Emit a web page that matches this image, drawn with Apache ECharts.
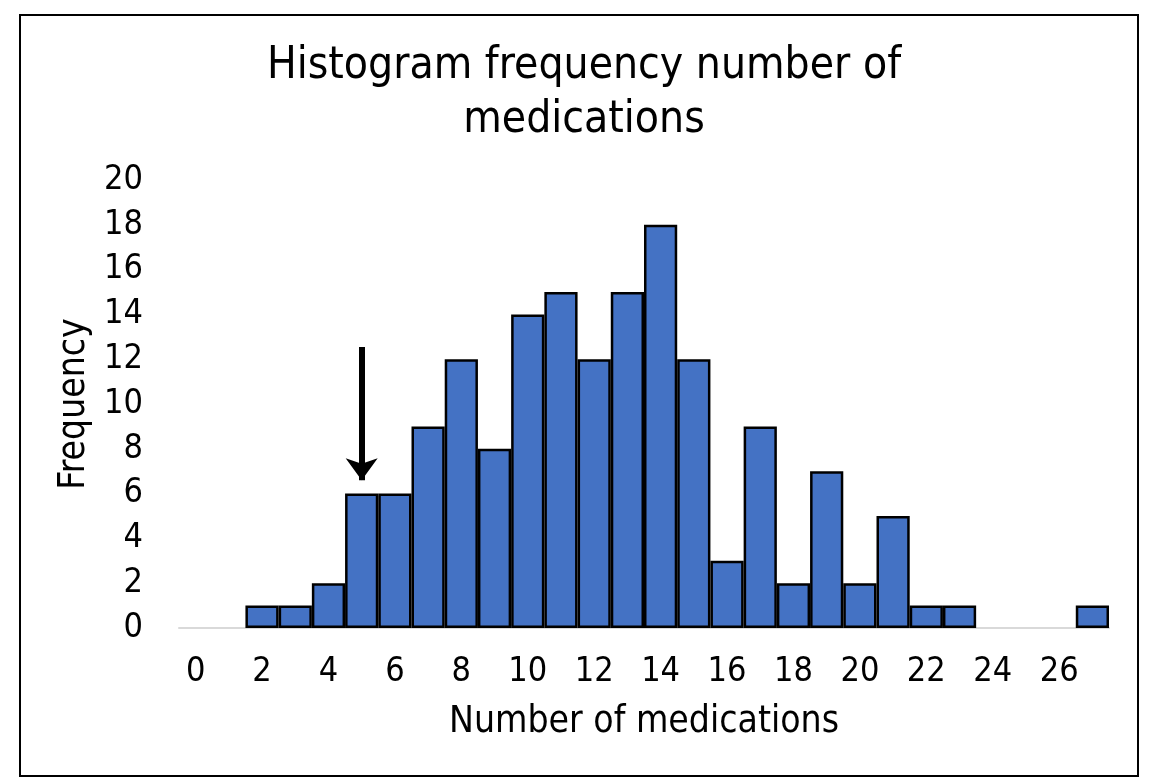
<!DOCTYPE html>
<html>
<head>
<meta charset="utf-8">
<script src="https://cdn.jsdelivr.net/npm/echarts@6/dist/echarts.min.js"></script>
<style>
  html, body { margin: 0; padding: 0; background: #fff; }
  #box { width: 1153px; height: 778px; }
</style>
</head>
<body>
<div id="box"></div>
<script>
// number of medications (bins) and how many patients fall in each
var categories = ['0', '1', '2', '3', '4', '5', '6', '7', '8', '9', '10', '11', '12', '13',
    '14', '15', '16', '17', '18', '19', '20', '21', '22', '23', '24', '25', '26', '27'];
var frequency = [0, 0, 1, 1, 2, 6, 6, 9, 12, 8, 14, 15, 12, 15,
    18, 12, 3, 9, 2, 7, 2, 5, 1, 1, 0, 0, 0, 1];
// arrow annotation: bin, start value, end value
var arrowMark = ['5', 12.55, 6.6];

var font = 'Tahoma, "DejaVu Sans Condensed", "DejaVu Sans", sans-serif';

var myChart = echarts.init(document.getElementById('box'));
var option = {
    backgroundColor: '#fff',
    animation: false,
    // 外框
    graphic: [{
        type: 'rect',
        shape: { x: 20, y: 15, width: 1118, height: 761 },
        style: { fill: 'none', stroke: '#000', lineWidth: 2 },
        silent: true
    }],
    title: {
        text: 'Histogram frequency number of\nmedications',
        left: 579,
        textAlign: 'center',
        top: 35,
        textStyle: {
            fontFamily: font,
            fontWeight: 'normal',
            fontSize: 44,
            lineHeight: 54,
            color: '#000'
        }
    },
    grid: {
        left: 179,
        right: 44,
        top: 180,
        bottom: 150
    },
    xAxis: {
        type: 'category',
        data: categories,
        name: 'Number of medications',
        nameLocation: 'middle',
        nameGap: 76,
        nameTextStyle: { fontFamily: font, fontSize: 37, color: '#000' },
        axisLine: { lineStyle: { color: '#d9d9d9', width: 2 } },
        axisTick: { show: false },
        axisLabel: {
            interval: 1,
            margin: 27,
            fontFamily: font,
            fontSize: 34,
            color: '#000'
        }
    },
    yAxis: {
        type: 'value',
        min: 0,
        max: 20,
        interval: 2,
        name: 'Frequency',
        nameLocation: 'middle',
        nameGap: 82,
        nameTextStyle: { fontFamily: font, fontSize: 37, color: '#000' },
        axisLine: { show: false },
        axisTick: { show: false },
        splitLine: { show: false },
        axisLabel: {
            margin: 36,
            fontFamily: font,
            fontSize: 34,
            color: '#000'
        }
    },
    series: [{
        name: 'Frequency',
        type: 'bar',
        // 0 的柱子不画（否则边框会盖住坐标轴）
        data: frequency.map(function (v) { return v === 0 ? '-' : v; }),
        barCategoryGap: 0,
        itemStyle: {
            color: '#4472c4',
            borderColor: '#000',
            borderWidth: 2.5
        },
        // 箭头
        markLine: {
            silent: true,
            symbol: ['none', 'arrow'],
            symbolSize: [24, 22],
            label: { show: false },
            lineStyle: { color: '#000', width: 6, type: 'solid' },
            data: [[
                { coord: [arrowMark[0], arrowMark[1]] },
                { coord: [arrowMark[0], arrowMark[2]] }
            ]]
        }
    }]
};

myChart.setOption(option);
</script>
</body>
</html>
